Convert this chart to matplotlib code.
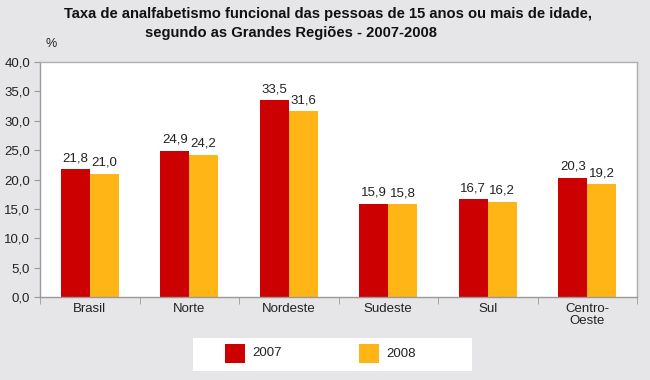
import matplotlib
matplotlib.use("Agg")
import matplotlib.pyplot as plt
import numpy as np
from matplotlib.patches import Rectangle

categories = ["Brasil", "Norte", "Nordeste", "Sudeste", "Sul", "Centro-\nOeste"]
v2007 = [21.8, 24.9, 33.5, 15.9, 16.7, 20.3]
v2008 = [21.0, 24.2, 31.6, 15.8, 16.2, 19.2]
series_labels = ["2007", "2008"]
yticks = [0, 5, 10, 15, 20, 25, 30, 35, 40]

bg = "#e6e6e8"
red = "#cc0000"
yellow = "#ffb515"
plt.rcParams['font.family'] = ['Liberation Sans', 'DejaVu Sans']

fig = plt.figure(figsize=(6.5, 3.8), dpi=100, facecolor=bg)
ax = fig.add_axes([40/650, 1-297/380, 597/650, 235/380])
ax.set_facecolor("white")

x = np.arange(len(categories))
w = 0.29
b1 = ax.bar(x - w/2, v2007, w, color=red, label=series_labels[0])
b2 = ax.bar(x + w/2, v2008, w, color=yellow, label=series_labels[1])

def fmt(v):
    return f"{v:.1f}".replace(".", ",")

for bars, vals in ((b1, v2007), (b2, v2008)):
    for r, v in zip(bars, vals):
        ax.annotate(fmt(v), (r.get_x() + r.get_width()/2, v), xytext=(0, 3.5),
                    textcoords="offset points", ha="center", va="bottom",
                    fontsize=9.5, color="#222222")

ax.set_xlim(-0.5, len(categories) - 0.5)
ax.set_ylim(0, 40)
ax.set_yticks(yticks)
ax.set_yticklabels([fmt(t) for t in yticks], fontsize=9.5, color="#222222")
ax.set_xticks(x)
ax.set_xticklabels(categories, fontsize=9.5, color="#222222", linespacing=1.1)
ax.tick_params(axis='x', which='major', length=0, pad=4)
ax.set_xticks(np.arange(len(categories) + 1) - 0.5, minor=True)
ax.tick_params(axis='x', which='minor', length=5, color="#999999")
ax.tick_params(axis='y', length=4, color="#999999", pad=3)
for s in ax.spines.values():
    s.set_color("#b0b0b0")
    s.set_linewidth(1)
ax.spines['left'].set_color("#999999")
ax.spines['bottom'].set_color("#999999")

fig.text(45/650, 1-50/380, "%", fontsize=9, color="#222222", ha="left", va="bottom")

fig.text(328/650, 1-14/380, "Taxa de analfabetismo funcional das pessoas de 15 anos ou mais de idade,",
         fontsize=10.6, fontweight="bold", ha="center", va="center", color="#111111")
fig.text(145/650, 1-33/380, "segundo as Grandes Regiões - 2007-2008",
         fontsize=10.6, fontweight="bold", ha="left", va="center", color="#111111")

# legend box
fig.patches.append(Rectangle((193/650, 1-371/380), 279/650, 33/380, transform=fig.transFigure,
                             facecolor="white", edgecolor="none"))
fig.patches.append(Rectangle((225/650, 1-363/380), 20/650, 19/380, transform=fig.transFigure,
                             facecolor=red, edgecolor="none"))
fig.patches.append(Rectangle((359/650, 1-363/380), 20/650, 19/380, transform=fig.transFigure,
                             facecolor=yellow, edgecolor="none"))
fig.text(252/650, 1-353/380, series_labels[0], fontsize=9.5, va="center", ha="left", color="#222222")
fig.text(386/650, 1-354/380, series_labels[1], fontsize=9.5, va="center", ha="left", color="#222222")

fig.savefig("out.png", dpi=100, facecolor=bg)
